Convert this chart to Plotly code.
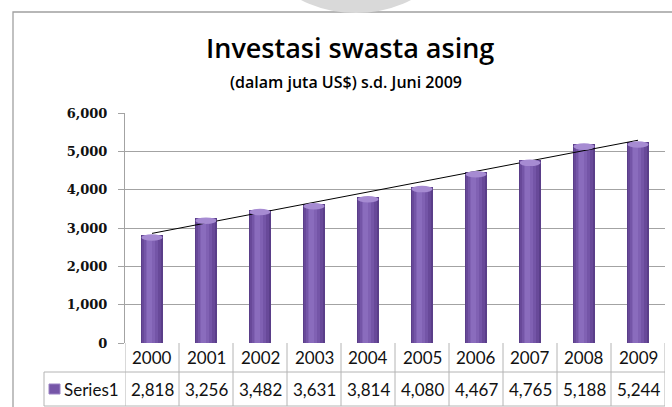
import numpy as np
import plotly.graph_objects as go

# Data
years = ["2000", "2001", "2002", "2003", "2004", "2005", "2006", "2007", "2008", "2009"]
investasi = [2818, 3256, 3482, 3631, 3814, 4080, 4467, 4765, 5188, 5244]
series_name = "Series1"
y_ticks = [0, 1000, 2000, 3000, 4000, 5000, 6000]

W, H = 672, 407
# plot area in pixels
L, R, T, B = 125, 665, 113, 343


def px_x(p):
    return (p - L) / (R - L)


def px_y(p):
    return (B - p) / (B - T)


idx = list(range(len(years)))
fig = go.Figure()

# cylinder-style bars: stacked overlays of narrowing, lighter columns
layers = [
    (0.41, 0.0, "#5a3e89"),
    (0.35, -0.005, "#684999"),
    (0.27, -0.02, "#7455a7"),
    (0.17, -0.035, "#8061b3"),
    (0.08, -0.045, "#8a6cbd"),
]
for w, shift, col in layers:
    fig.add_trace(go.Bar(
        x=idx, y=investasi, width=w, offset=-w / 2 + shift,
        marker=dict(color=col, line=dict(width=0)),
        hoverinfo="skip", showlegend=False,
    ))

# linear trendline through the series
coef = np.polyfit(idx, investasi, 1)
trend = np.polyval(coef, idx)
fig.add_trace(go.Scatter(
    x=idx, y=trend, mode="lines",
    line=dict(color="black", width=1), hoverinfo="skip", showlegend=False,
))

shapes = []
# light cap on top of each column
for i, v in zip(idx, investasi):
    shapes.append(dict(type="circle", xref="x", yref="y",
                       x0=i - 0.195, x1=i + 0.195, y0=v - 150, y1=v + 20,
                       fillcolor="#a68bd2", line=dict(width=0), layer="above"))

grid_col = "#a3a3a3"
tab_col = "#b4b4b4"
# outer chart frame
shapes.append(dict(type="rect", xref="paper", yref="paper",
                   x0=px_x(13), x1=px_x(690), y0=px_y(12), y1=px_y(420),
                   line=dict(color="#a0a0a0", width=1.3), layer="below"))
# grey disc at the top edge
shapes.append(dict(type="circle", xref="paper", yref="paper",
                   x0=px_x(356 - 123), x1=px_x(356 + 123),
                   y0=px_y(13), y1=px_y(13 - 246),
                   fillcolor="#d9d9d9", line=dict(width=0), layer="below"))

# data table grid
y_top, y_mid, y_bot = 343, 372, 406
shapes.append(dict(type="line", xref="paper", yref="paper",
                   x0=px_x(44), x1=px_x(R), y0=px_y(y_mid), y1=px_y(y_mid),
                   line=dict(color=tab_col, width=1)))
shapes.append(dict(type="line", xref="paper", yref="paper",
                   x0=px_x(44), x1=px_x(R), y0=px_y(y_bot), y1=px_y(y_bot),
                   line=dict(color=tab_col, width=1)))
shapes.append(dict(type="line", xref="paper", yref="paper",
                   x0=px_x(44), x1=px_x(44), y0=px_y(y_mid), y1=px_y(y_bot),
                   line=dict(color=tab_col, width=1)))
for k in range(len(years) + 1):
    shapes.append(dict(type="line", xref="x", yref="paper",
                       x0=k - 0.5, x1=k - 0.5, y0=px_y(y_top), y1=px_y(y_bot),
                       line=dict(color=tab_col, width=1)))
# legend key in the table
shapes.append(dict(type="rect", xref="paper", yref="paper",
                   x0=px_x(49), x1=px_x(60), y0=px_y(384), y1=px_y(394),
                   fillcolor="#7656a8", line=dict(color="#9a82c4", width=1)))

fig.update_layout(shapes=shapes)

tab_font = dict(family="Lato", size=17, color="#111111")
annotations = []
for i, (yr, v) in enumerate(zip(years, investasi)):
    annotations.append(dict(x=i, y=px_y((y_top + y_mid) / 2), xref="x", yref="paper",
                            text=yr, showarrow=False, font=tab_font,
                            xanchor="center", yanchor="middle"))
    annotations.append(dict(x=i, y=px_y((y_mid + y_bot) / 2), xref="x", yref="paper",
                            text=f"{v:,}", showarrow=False, font=tab_font,
                            xanchor="center", yanchor="middle"))
annotations.append(dict(x=px_x(62), y=px_y((y_mid + y_bot) / 2), xref="paper", yref="paper",
                        text=series_name, showarrow=False, font=tab_font,
                        xanchor="left", yanchor="middle"))
# titles
annotations.append(dict(x=px_x(350), y=px_y(47), xref="paper", yref="paper",
                        text="Investasi swasta asing", showarrow=False,
                        font=dict(family="Open Sans", size=27, color="black", weight=600),
                        xanchor="center", yanchor="middle"))
annotations.append(dict(x=px_x(346), y=px_y(82), xref="paper", yref="paper",
                        text="(dalam juta US$) s.d. Juni 2009", showarrow=False,
                        font=dict(family="Open Sans", size=16, color="black", weight=600),
                        xanchor="center", yanchor="middle"))

fig.update_layout(
    width=W, height=H,
    margin=dict(l=L, r=W - R, t=T, b=H - B),
    paper_bgcolor="white", plot_bgcolor="white",
    barmode="overlay", bargap=0,
    annotations=annotations,
    showlegend=False,
    xaxis=dict(range=[-0.5, len(years) - 0.5], showticklabels=False, showgrid=False,
               zeroline=False, showline=False, ticks="", fixedrange=True),
    yaxis=dict(range=[0, 6000], tickvals=y_ticks, tickformat=",",
               showgrid=True, gridcolor=grid_col, gridwidth=1,
               zeroline=False, showline=True, linecolor=grid_col, linewidth=1,
               ticks="outside", ticklen=6, tickcolor=grid_col, ticklabelstandoff=8,
               tickfont=dict(family="DejaVu Serif", size=13, color="#111111", weight="bold"),
               fixedrange=True),
)

fig.write_html("out.html")
